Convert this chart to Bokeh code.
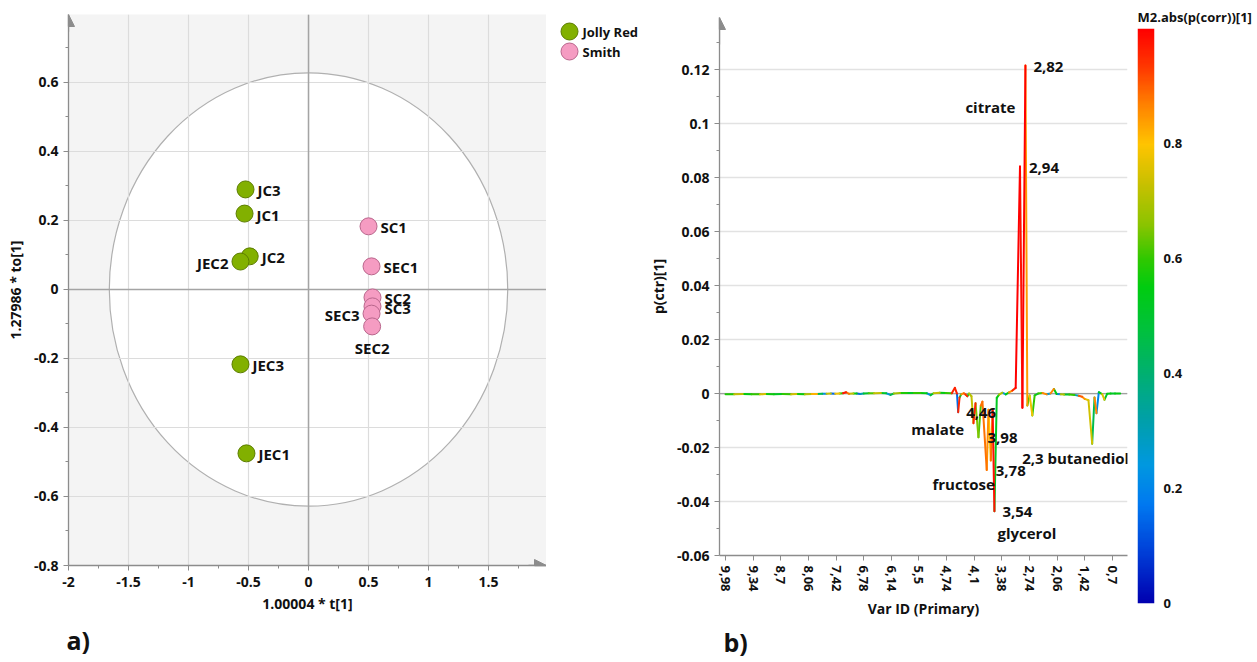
import numpy as np
from bokeh.plotting import figure
from bokeh.layouts import row
from bokeh.models import (ColumnDataSource, FixedTicker, Span, Label, Arrow, NormalHead,
                          LinearColorMapper, Title, Range1d)
from bokeh.embed import file_html
from bokeh.resources import INLINE
from bokeh.core.properties import value

FONT = "Open Sans"
INK = "#111111"
AXIS_GREY = "#8c8c8c"

# ---------------- panel a) : score plot data ----------------
SAMPLE_NAMES = ["JC3", "JC1", "JC2", "JEC2", "JEC3", "JEC1",
                "SC1", "SEC1", "SC2", "SC3", "SEC3", "SEC2"]
SAMPLE_T = [-0.525, -0.533, -0.490, -0.567, -0.567, -0.517,
            0.500, 0.525, 0.533, 0.533, 0.525, 0.530]
SAMPLE_TO = [0.290, 0.220, 0.096, 0.081, -0.217, -0.475,
             0.183, 0.067, -0.023, -0.049, -0.070, -0.107]
SAMPLE_GROUP = ["Jolly Red"] * 6 + ["Smith"] * 6
GROUPS = ["Jolly Red", "Smith"]
ELLIPSE_T = 1.66      # semi-axis of the Hotelling T2 ellipse along t[1]
ELLIPSE_TO = 0.628    # semi-axis along to[1]
A_XTICKS = [-2, -1.5, -1, -0.5, 0, 0.5, 1, 1.5]
A_XLABELS = ["-2", "-1.5", "-1", "-0.5", "0", "0.5", "1", "1.5"]
A_YTICKS = [-0.8, -0.6, -0.4, -0.2, 0, 0.2, 0.4, 0.6]
A_YLABELS = ["-0.8", "-0.6", "-0.4", "-0.2", "0", "0.2", "0.4", "0.6"]

# ---------------- panel b) : loadings line data ----------------
VAR_PER_LABEL = 32
B_XLABELS = ["9,98", "9,34", "8,7", "8,06", "7,42", "6,78", "6,14", "5,5",
             "4,74", "4,1", "3,38", "2,74", "2,06", "1,42", "0,7"]
B_YTICKS = [-0.06, -0.04, -0.02, 0, 0.02, 0.04, 0.06, 0.08, 0.1, 0.12]
B_YLABELS = ["-0.06", "-0.04", "-0.02", "0", "0.02", "0.04", "0.06", "0.08", "0.1", "0.12"]

SPEC_IDX = [0, 10, 20, 30, 40, 46, 56, 66, 76, 82, 92, 100, 106, 112, 117, 122, 127, 132,
            136, 139.5, 143, 148, 152, 156, 160, 166, 172, 180, 186, 191, 195, 202, 210,
            218, 226, 233, 237.5, 241, 248, 255, 262, 265.6, 268, 269.4, 271, 273, 276,
            278, 280, 282, 284.8, 287.1, 289.5, 292.9, 295.6, 297.5, 302.5, 304.5, 307.2,
            309.3, 311.4, 314.1, 316.8, 320.6, 324.5, 328.3, 332.2, 336, 341, 343.8,
            347.3, 349.5, 352.2, 355.3, 358, 362, 367, 372, 376.4, 380.3, 383.4, 388,
            392, 398, 404, 409, 413, 416, 420.3, 424.6, 427.3, 429.6, 432.3, 436.2,
            438.8, 441.9, 446, 451, 457]
SPEC_PCTR = [-0.0003, -0.0003, -0.0002, -0.0003, -0.0003, -0.0002, -0.0003, -0.0002,
             -0.0003, -0.0002, -0.0003, -0.0002, -0.0002, -0.0001, -0.0001, 0.0, -0.0001,
             0.0, 0.0001, 0.0005, -0.0001, 0.0, 0.0, -0.0002, 0.0, 0.0001, 0.0001, 0.0002,
             0.0001, -0.0005, 0.0, 0.0002, 0.0002, 0.0002, 0.0002, 0.0001, -0.0006, 0.0001,
             0.0003, 0.0002, 0.0001, 0.0021, 0.0, -0.0069, -0.0015, -0.0003, 0.0001,
             -0.0004, -0.0010, 0.0, -0.0010, -0.0110, -0.0036, -0.0162, -0.0045, -0.0030,
             -0.0283, -0.0060, -0.0248, -0.0060, -0.0436, -0.0016, -0.0004, 0.0003,
             -0.0003, 0.0004, 0.0011, 0.0021, 0.0841, -0.0053, 0.1215, -0.0044, -0.0007,
             -0.0081, -0.0007, 0.0, 0.0002, -0.0003, 0.0, 0.0017, -0.0002, -0.0003,
             -0.0004, -0.0004, -0.0005, -0.0008, -0.0012, -0.0020, -0.0025, -0.0186,
             -0.0015, -0.0073, 0.0005, -0.0002, -0.0023, -0.0001, 0.0, 0.0, 0.0]
SPEC_CORR = [0.55, 0.58, 0.72, 0.55, 0.60, 0.75, 0.56, 0.52, 0.60, 0.74, 0.56, 0.70, 0.82,
             0.45, 0.22, 0.72, 0.15, 0.78, 0.60, 0.97, 0.88, 0.72, 0.55, 0.14, 0.30, 0.50,
             0.62, 0.72, 0.50, 0.25, 0.45, 0.68, 0.58, 0.52, 0.60, 0.55, 0.22, 0.50, 0.72,
             0.55, 0.60, 0.96, 0.96, 0.15, 0.95, 0.50, 0.85, 0.90, 0.95, 0.55, 0.70, 0.72,
             0.96, 0.65, 0.62, 0.88, 0.88, 0.85, 0.80, 0.88, 0.98, 0.52, 0.55, 0.70, 0.25,
             0.55, 0.85, 0.95, 1.00, 0.98, 1.00, 0.84, 0.60, 0.78, 0.60, 0.50, 0.60, 0.86,
             0.25, 0.86, 0.55, 0.20, 0.70, 0.50, 0.60, 0.30, 0.90, 0.85, 0.76, 0.74, 0.45,
             0.86, 0.20, 0.55, 0.76, 0.50, 0.55, 0.50, 0.55]

ANNOT_TEXT = ["2,82", "citrate", "2,94", "4,46", "malate", "3,98", "3,78", "fructose",
              "3,54", "glycerol", "2,3 butanediol"]
ANNOT_PEAK = [347.3, 347.3, 341, 269.4, 269.4, 292.9, 302.5, 302.5, 311.4, 311.4, 424.6]

# colour scale of abs(p(corr))
CBAR_STOPS = [0, 0.09, 0.17, 0.24, 0.32, 0.40, 0.47, 0.55, 0.60, 0.66, 0.73, 0.80, 0.87, 0.93, 1.0]
CBAR_COLORS = ["#0000b0", "#0040d8", "#0078f0", "#0098e0", "#00a0a8", "#00b070", "#00c040",
               "#00cc10", "#30c800", "#8cc400", "#c8c000", "#ffc400", "#ff8000", "#ff3c00",
               "#ff0000"]
CBAR_TICKS = [0, 0.2, 0.4, 0.6, 0.8]
CBAR_LABELS = ["0", "0.2", "0.4", "0.6", "0.8"]


def build_palette(stops, colors, n=256):
    rgb = np.array([[int(c[i:i + 2], 16) for i in (1, 3, 5)] for c in colors], float)
    out = []
    for p_ in np.linspace(0, 1, n):
        r, g, b = (np.interp(p_, stops, rgb[:, k]) for k in range(3))
        out.append("#%02x%02x%02x" % (int(round(r)), int(round(g)), int(round(b))))
    return out


PALETTE = build_palette(CBAR_STOPS, CBAR_COLORS)
MAPPER = LinearColorMapper(palette=PALETTE, low=0, high=1)


def no_align(p):
    try:
        p.frame_align = False
    except Exception:
        pass


def style_axis(ax, size="14px"):
    ax.axis_line_color = AXIS_GREY
    ax.axis_line_width = 1.3
    ax.major_tick_line_color = AXIS_GREY
    ax.minor_tick_line_color = AXIS_GREY
    ax.major_tick_out = 5
    ax.major_tick_in = 0
    ax.minor_tick_out = 3
    ax.minor_tick_in = 0
    ax.major_label_text_font = FONT
    ax.major_label_text_font_style = "bold"
    ax.major_label_text_font_size = size
    ax.major_label_text_color = INK
    ax.axis_label_text_font = FONT
    ax.axis_label_text_font_style = "bold"
    ax.axis_label_text_font_size = "14px"
    ax.axis_label_text_color = INK


def arrow_head():
    return NormalHead(size=12, fill_color=AXIS_GREY, line_color=AXIS_GREY)


def panel_tag(text, offset, standoff):
    return Title(text=text, align="left", offset=offset, standoff=standoff, text_font=FONT,
                 text_font_style="bold", text_font_size="25px", text_color=INK)


GROUP_STYLE = {"Jolly Red": ("#82b000", "#5c7d00"), "Smith": ("#f59cc2", "#b9668c")}

# ======================= panel a =======================
A_XR = (-2.0, 1.983)
A_YR = (-0.8, 0.797)
pa = figure(width=546, height=662, x_range=A_XR, y_range=A_YR,
            min_border_left=68, min_border_right=0, min_border_top=14, min_border_bottom=97,
            toolbar_location=None, output_backend="svg",
            background_fill_color="#f4f4f4", border_fill_color="white", outline_line_color=None)
no_align(pa)

pa.ellipse(x=0, y=0, width=2 * ELLIPSE_T, height=2 * ELLIPSE_TO, fill_color="white",
           line_color="#b0b0b0", line_width=1.2, level="image")
pa.add_layout(Span(location=0, dimension="height", line_color="#a4a4a4", line_width=1.5, level="underlay"))
pa.add_layout(Span(location=0, dimension="width", line_color="#a4a4a4", line_width=1.5, level="underlay"))

pa.xaxis.ticker = FixedTicker(ticks=A_XTICKS, minor_ticks=[t + 0.25 for t in A_XTICKS])
pa.yaxis.ticker = FixedTicker(ticks=A_YTICKS, minor_ticks=[t + 0.1 for t in A_YTICKS])
pa.xaxis.major_label_overrides = dict(zip(A_XTICKS, A_XLABELS))
pa.yaxis.major_label_overrides = dict(zip(A_YTICKS, A_YLABELS))
pa.xaxis.axis_label = "1.00004 * t[1]"
pa.yaxis.axis_label = "1.27986 * to[1]"
style_axis(pa.xaxis[0]); style_axis(pa.yaxis[0])
pa.xaxis.major_label_standoff = 6
pa.yaxis.major_label_standoff = 5
pa.xaxis.axis_label_standoff = 4
pa.yaxis.axis_label_standoff = 6
pa.xgrid.ticker = FixedTicker(ticks=A_XTICKS)
pa.ygrid.ticker = FixedTicker(ticks=A_YTICKS)
pa.grid.grid_line_color = "#dcdcdc"
pa.grid.grid_line_width = 1.2

pa.add_layout(Arrow(end=arrow_head(), x_start=A_XR[1] - 0.15, y_start=A_YR[0], x_end=A_XR[1],
                    y_end=A_YR[0], line_color=AXIS_GREY, line_width=1.3))
pa.add_layout(Arrow(end=arrow_head(), x_start=A_XR[0], y_start=A_YR[1] - 0.05, x_end=A_XR[0],
                    y_end=A_YR[1], line_color=AXIS_GREY, line_width=1.3))

LABEL_SIDE = {"JEC2": "left", "SEC3": "left", "SEC2": "below", "SC3": "right_low"}
SIDE_OFFSET = {"right": (12, 1, "left"), "right_low": (12, 2, "left"),
               "left": (-12, 1, "right"), "below": (0, 22, "center")}

for g in GROUPS:
    idx = [i for i, s in enumerate(SAMPLE_GROUP) if s == g]
    src = ColumnDataSource(dict(x=[SAMPLE_T[i] for i in idx], y=[SAMPLE_TO[i] for i in idx],
                                name=[SAMPLE_NAMES[i] for i in idx]))
    fill, line = GROUP_STYLE[g]
    pa.scatter("x", "y", source=src, size=17, fill_color=fill, line_color=line, line_width=1)

for i, nm in enumerate(SAMPLE_NAMES):
    dx, dy, al = SIDE_OFFSET[LABEL_SIDE.get(nm, "right")]
    pa.text(x=[SAMPLE_T[i]], y=[SAMPLE_TO[i]], text=[nm], x_offset=dx, y_offset=dy,
            text_align=al, text_baseline="middle", text_font=value(FONT),
            text_font_style="bold", text_font_size="15px", text_color=INK)

pa.add_layout(panel_tag("a)", -2, 11), "below")

# ======================= legend of panel a =======================
# one row per group; 1 unit of y = 20 px, first row 31 px below the top, swatch 23 px from left
pl = figure(width=99, height=662, x_range=Range1d(-23, 76),
            y_range=Range1d((662 - 31) / 20, -31 / 20), min_border=0,
            toolbar_location=None, output_backend="svg", outline_line_color=None,
            x_axis_location=None, y_axis_location=None)
no_align(pl)
pl.grid.visible = False
leg_src = ColumnDataSource(dict(x=[0] * len(GROUPS), y=list(range(len(GROUPS))), label=GROUPS,
                                fill=[GROUP_STYLE[g][0] for g in GROUPS],
                                line=[GROUP_STYLE[g][1] for g in GROUPS]))
pl.scatter("x", "y", source=leg_src, size=17, fill_color="fill", line_color="line", line_width=1)
pl.text("x", "y", text="label", source=leg_src, x_offset=13, text_baseline="middle",
        text_font=value(FONT), text_font_style="bold", text_font_size="13px", text_color=INK)

# ======================= panel b =======================
B_XR = (-7, 465.5)
B_YR = (-0.06, 0.1393)
pb = figure(width=487, height=662, x_range=B_XR, y_range=B_YR,
            min_border_left=73, min_border_right=5, min_border_top=17, min_border_bottom=107,
            toolbar_location=None, output_backend="svg",
            background_fill_color="white", border_fill_color="white", outline_line_color=None)
no_align(pb)

xt = [VAR_PER_LABEL * k for k in range(len(B_XLABELS))]
pb.xaxis.ticker = FixedTicker(ticks=xt, minor_ticks=[])
pb.xaxis.major_label_overrides = dict(zip(xt, B_XLABELS))
pb.xaxis.major_label_orientation = "vertical"
pb.yaxis.ticker = FixedTicker(ticks=B_YTICKS, minor_ticks=[t + 0.01 for t in B_YTICKS])
pb.yaxis.major_label_overrides = dict(zip(B_YTICKS, B_YLABELS))
pb.xaxis.axis_label = "Var ID (Primary)"
pb.yaxis.axis_label = "p(ctr)[1]"
style_axis(pb.xaxis[0], "13px"); style_axis(pb.yaxis[0])
pb.xaxis.major_label_standoff = 5
pb.yaxis.major_label_standoff = 5
pb.xaxis.axis_label_standoff = 4
pb.yaxis.axis_label_standoff = 6
pb.xgrid.visible = False
pb.ygrid.ticker = FixedTicker(ticks=B_YTICKS)
pb.ygrid.grid_line_color = "#e2e2e2"
pb.ygrid.grid_line_width = 1.3
pb.add_layout(Span(location=0, dimension="width", line_color="#a0a0a0", line_width=1.3, level="underlay"))
pb.add_layout(Arrow(end=arrow_head(), x_start=B_XR[0], y_start=B_YR[1] - 0.01, x_end=B_XR[0],
                    y_end=B_YR[1], line_color=AXIS_GREY, line_width=1.3))

# coloured line: one segment per step, stronger correlation drawn on top
order = sorted(range(len(SPEC_IDX) - 1), key=lambda k: SPEC_CORR[k + 1])
seg = ColumnDataSource(dict(x0=[SPEC_IDX[k] for k in order], y0=[SPEC_PCTR[k] for k in order],
                            x1=[SPEC_IDX[k + 1] for k in order], y1=[SPEC_PCTR[k + 1] for k in order],
                            corr=[SPEC_CORR[k + 1] for k in order]))
pb.segment("x0", "y0", "x1", "y1", source=seg, line_width=2,
           line_color={"field": "corr", "transform": MAPPER}, line_cap="round")

ANNOT_PLACE = [(8, 1, "left"), (-10, 41, "right"), (9, 1, "left"), (8, 1, "left"),
               (6, 17, "right"), (9, 1, "left"), (9, 1, "left"), (8, 14, "right"),
               (8, 1, "left"), (3, 22, "left"), (-70, 14, "left")]
for txt, pk, (dx, dy, al) in zip(ANNOT_TEXT, ANNOT_PEAK, ANNOT_PLACE):
    j = SPEC_IDX.index(pk)
    pb.add_layout(Label(x=SPEC_IDX[j], y=SPEC_PCTR[j], x_offset=dx, y_offset=-dy, text=txt,
                        text_align=al, text_baseline="middle", text_font=FONT,
                        text_font_style="bold", text_font_size="15px", text_color=INK))
pb.add_layout(panel_tag("b)", 4, 5), "below")

# ======================= colour bar =======================
pc = figure(width=125, height=662, x_range=(0, 1), y_range=(0, 1),
            min_border_left=5, min_border_right=103, min_border_top=28, min_border_bottom=59,
            toolbar_location=None, output_backend="svg", x_axis_location=None,
            y_axis_location="right", outline_line_color=None)
no_align(pc)
grad = np.linspace(0, 1, 256).reshape(256, 1)
pc.image(image=[grad], x=0, y=0, dw=1, dh=1, color_mapper=MAPPER)
pc.grid.visible = False
pc.yaxis.ticker = FixedTicker(ticks=CBAR_TICKS, minor_ticks=[])
pc.yaxis.major_label_overrides = dict(zip(CBAR_TICKS, CBAR_LABELS))
style_axis(pc.yaxis[0], "13px")
pc.yaxis.axis_line_color = None
pc.yaxis.major_tick_line_color = None
pc.yaxis.major_label_standoff = 4
pc.add_layout(Title(text="M2.abs(p(corr))[1]", align="left", standoff=6, text_font=FONT,
                    text_font_style="bold", text_font_size="13px", text_color=INK), "above")

layout = row(pa, pl, pb, pc)
open("out.html", "w").write(file_html(layout, INLINE))
